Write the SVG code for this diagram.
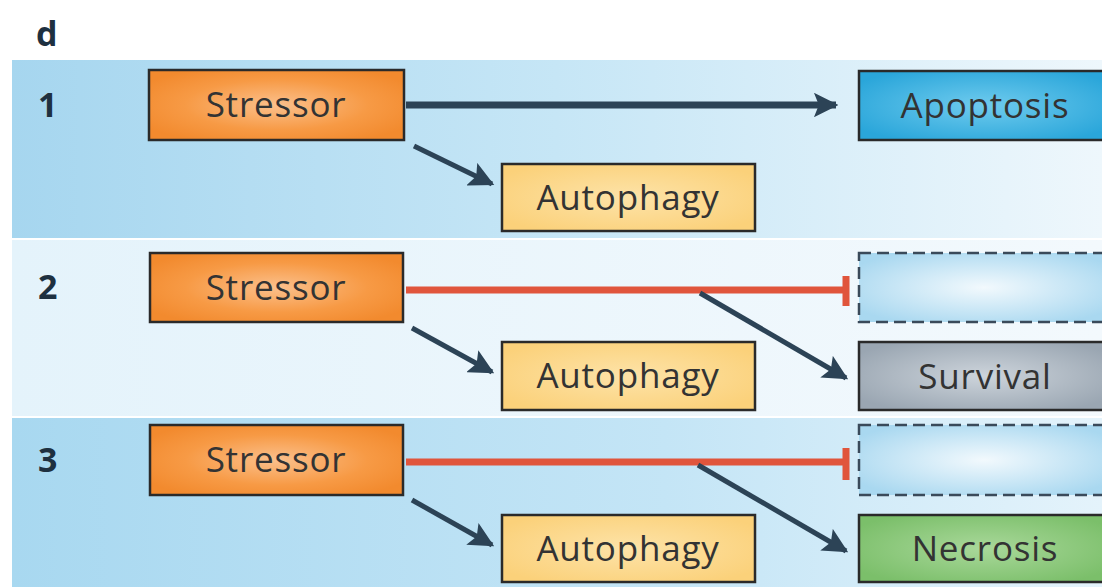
<svg xmlns="http://www.w3.org/2000/svg" width="1102" height="587" viewBox="0 0 1102 587">
<defs>
<linearGradient id="band1" x1="0" y1="0" x2="1" y2="0"><stop offset="0" stop-color="#a6d6ef"/><stop offset="0.5" stop-color="#c6e6f6"/><stop offset="1" stop-color="#eef7fc"/></linearGradient>
<linearGradient id="band2" x1="0" y1="0" x2="1" y2="0"><stop offset="0" stop-color="#e4f3fb"/><stop offset="1" stop-color="#f3f9fd"/></linearGradient>
<linearGradient id="band3" x1="0" y1="0" x2="1" y2="0"><stop offset="0" stop-color="#a8d8f0"/><stop offset="0.6" stop-color="#c4e5f6"/><stop offset="1" stop-color="#e4f3fb"/></linearGradient>
<radialGradient id="orange" cx="0.5" cy="0.5" r="0.6"><stop offset="0" stop-color="#fbc08c"/><stop offset="0.6" stop-color="#f79a45"/><stop offset="1" stop-color="#f28a2e"/></radialGradient>
<radialGradient id="yellow" cx="0.5" cy="0.5" r="0.6"><stop offset="0" stop-color="#fde3a8"/><stop offset="1" stop-color="#fbd17a"/></radialGradient>
<radialGradient id="blue" cx="0.5" cy="0.5" r="0.6"><stop offset="0" stop-color="#6fcbee"/><stop offset="1" stop-color="#2aa6da"/></radialGradient>
<radialGradient id="gray" cx="0.5" cy="0.5" r="0.6"><stop offset="0" stop-color="#cdd4db"/><stop offset="1" stop-color="#9aa6b2"/></radialGradient>
<radialGradient id="green" cx="0.5" cy="0.5" r="0.6"><stop offset="0" stop-color="#a9d89a"/><stop offset="1" stop-color="#7bbf6a"/></radialGradient>
<radialGradient id="pale" cx="0.5" cy="0.5" r="0.6"><stop offset="0" stop-color="#f2f9fd"/><stop offset="1" stop-color="#a9d8f0"/></radialGradient>
<marker id="arr" viewBox="0 0 10 10" refX="9" refY="5" markerWidth="3.5" markerHeight="3.5" orient="auto" markerUnits="strokeWidth"><path d="M0,0 L10,5 L0,10 L2,5 z" fill="#2c4356"/></marker>
<marker id="arr2" viewBox="0 0 10 10" refX="9" refY="5" markerWidth="5" markerHeight="5" orient="auto" markerUnits="strokeWidth"><path d="M0,0 L10,5 L0,10 L2,5 z" fill="#2c4356"/></marker>
</defs>
<style>
.box{stroke:#2a2a2a;stroke-width:2.5}
.dash{stroke:#3a4a5a;stroke-width:2.5;stroke-dasharray:12 6}
.lbl{font-family:"Open Sans","DejaVu Sans",sans-serif;font-size:35px;letter-spacing:0.8px;fill:#333333;text-anchor:middle;dominant-baseline:central}
.num{font-family:"Open Sans","DejaVu Sans",sans-serif;font-size:34px;font-weight:bold;fill:#1e3040}
.dark{stroke:#2c4356;fill:none}
.red{stroke:#e0553c;fill:none;stroke-width:7}
</style>
<rect x="0" y="0" width="1102" height="587" fill="#ffffff"/>
<rect x="12" y="60" width="1090" height="178" fill="url(#band1)"/>
<rect x="12" y="240" width="1090" height="176" fill="url(#band2)"/>
<rect x="12" y="418" width="1090" height="169" fill="url(#band3)"/>
<text x="36" y="46" class="num" font-size="42" fill="#111">d</text>
<g id="row-labels">
<text x="38" y="117" class="num">1</text>
<text x="38" y="299" class="num">2</text>
<text x="38" y="472" class="num">3</text>
</g>
<g id="connectors">
<line x1="406" y1="105" x2="836" y2="105" class="dark" stroke-width="7" marker-end="url(#arr)"/>
<line x1="414" y1="146" x2="492" y2="184" class="dark" stroke-width="5" marker-end="url(#arr2)"/>
<line x1="406" y1="290" x2="846" y2="290" class="red"/>
<line x1="846" y1="276" x2="846" y2="306" class="red"/>
<line x1="700" y1="293" x2="846" y2="378" class="dark" stroke-width="5" marker-end="url(#arr2)"/>
<line x1="412" y1="328" x2="492" y2="372" class="dark" stroke-width="5" marker-end="url(#arr2)"/>
<line x1="406" y1="462" x2="846" y2="462" class="red"/>
<line x1="846" y1="448" x2="846" y2="480" class="red"/>
<line x1="698" y1="465" x2="846" y2="551" class="dark" stroke-width="5" marker-end="url(#arr2)"/>
<line x1="412" y1="500" x2="492" y2="545" class="dark" stroke-width="5" marker-end="url(#arr2)"/>
</g>
<g id="stressor1"><rect x="149" y="70" width="255" height="70" fill="url(#orange)" class="box"/><text x="276" y="103" class="lbl">Stressor</text></g>
<g id="autophagy1"><rect x="502" y="164" width="253" height="67" fill="url(#yellow)" class="box"/><text x="628" y="196" class="lbl">Autophagy</text></g>
<g id="apoptosis"><rect x="859" y="71" width="250" height="69" fill="url(#blue)" class="box"/><text x="985" y="104" class="lbl">Apoptosis</text></g>
<g id="stressor2"><rect x="150" y="253" width="253" height="69" fill="url(#orange)" class="box"/><text x="276" y="286" class="lbl">Stressor</text></g>
<g id="blocked2"><rect x="859" y="253" width="250" height="69" fill="url(#pale)" class="dash"/></g>
<g id="autophagy2"><rect x="502" y="342" width="253" height="68" fill="url(#yellow)" class="box"/><text x="628" y="374" class="lbl">Autophagy</text></g>
<g id="survival"><rect x="859" y="342" width="250" height="68" fill="url(#gray)" class="box"/><text x="985" y="375" class="lbl">Survival</text></g>
<g id="stressor3"><rect x="150" y="425" width="253" height="70" fill="url(#orange)" class="box"/><text x="276" y="458" class="lbl">Stressor</text></g>
<g id="blocked3"><rect x="859" y="425" width="250" height="70" fill="url(#pale)" class="dash"/></g>
<g id="autophagy3"><rect x="502" y="515" width="253" height="67" fill="url(#yellow)" class="box"/><text x="628" y="547" class="lbl">Autophagy</text></g>
<g id="necrosis"><rect x="859" y="515" width="250" height="67" fill="url(#green)" class="box"/><text x="985" y="547" class="lbl">Necrosis</text></g>
</svg>
